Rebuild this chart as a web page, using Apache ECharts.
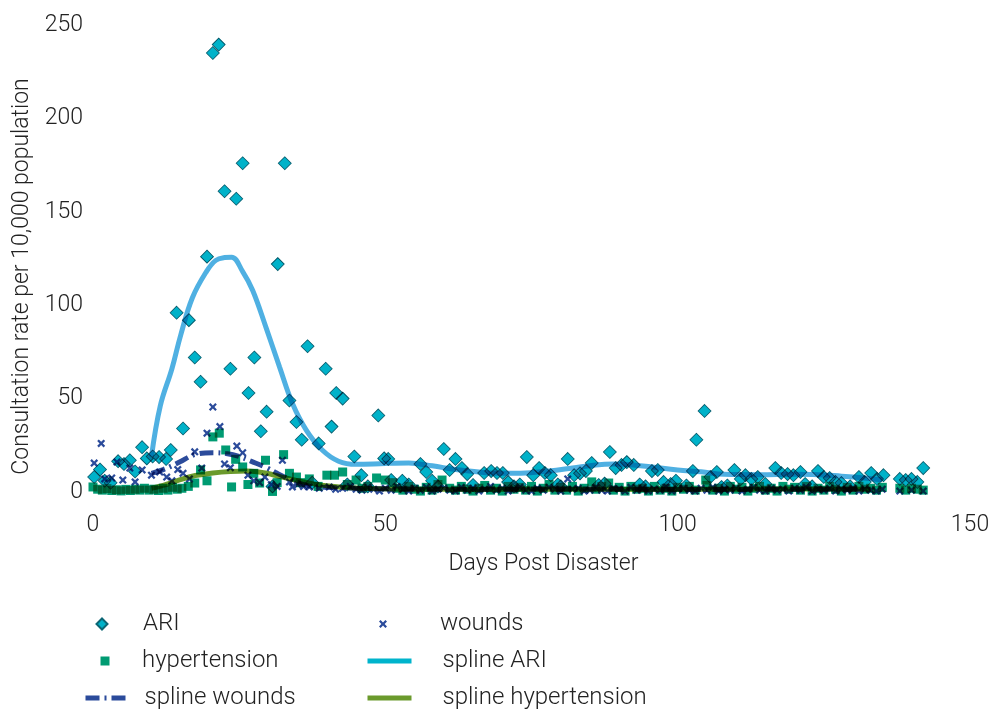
<!DOCTYPE html>
<html><head><meta charset="utf-8">
<script src="https://cdn.jsdelivr.net/npm/echarts@6/dist/echarts.min.js"></script>
<style>html,body{margin:0;padding:0;background:#fff}#c{width:993px;height:709px}</style>
</head><body><div id="c"></div>
<script>
// ---- data: [day, consultations per 10,000] ----
const ariPoints = [
 [0.2,8],[1.2,12],[2,6],[3,5],[4.3,16.5],[5.3,15],[6.3,17],[7.2,11],[8.4,24],[9.2,18],
 [10.2,19],[11.3,18.7],[12.5,17.7],[13.3,22.5],[14.3,96],[15.4,34],[16.4,92],[17.4,72],[18.4,59],[19.5,126],
 [20.5,235],[21.5,239.5],[22.5,161],[23.5,66],[24.5,157],[25.6,176],[26.6,53],[27.6,72],[28.7,32.5],[29.7,43],
 [30.7,3],[31.6,122],[32.8,176],[33.6,49],[34.8,37.5],[35.7,28],[36.7,78],[37.5,5],[38.6,26],[39.8,66],
 [40.8,35],[41.6,53],[42.7,50],[43.5,4],[44.7,19],[45.9,9],[47,3],[48.8,41],[49.8,18],
 [50.5,17.7],[51,6.4],[52.9,6],[54,4],[56,15],[57,10.7],[58,6],[59,3],[60,23],[61,11.8],[62,17.7],
 [63.1,12.8],[64,9.6],[65,3.7],[66.9,10.2],[68.1,11.2],[69.1,10.2],[70.1,10.2],[71,5.3],[72,3],[73,4],
 [74.2,18.7],[75.3,9],[76.3,12.8],[77.3,10.2],[78.3,9],[79.5,4],[80,3],[81.2,17.7],[82.3,9],[83.3,10],
 [84.3,11.2],[85.3,15.5],[86.5,3.7],[87.5,4.5],[88.4,21.4],[89.4,12.8],[90.4,14.5],[91.3,16],[92.5,14.5],[93.5,4],
 [94.5,3],[95.6,11.2],[96.6,11.8],[97.6,5.4],[98.8,4.3],[99.7,6],[101.5,3.5],[102.6,11.2],[103.2,28],[104.6,43.4],
 [105.6,8],[106.7,10.7],[107.5,2.7],[108.5,3.5],[109.7,11.8],[110.8,7],[111.6,9],[112.6,7],[113.7,8],[115,4.3],
 [116.7,12.8],[117.7,10.2],[118.8,9.6],[119.8,9],[121,10.7],[121.8,4.3],[123,3],[124,11.2],[125,8],[126,7.5],
 [127,5.4],[128,4.8],[129.5,3],[131,8],[132,5.4],[133.1,10.2],[134.1,7],[135.2,9],
 [138,7],[139,6.4],[140,7],[141,5.4],[142,12.8]
];
const woundsPoints = [
 [0.2,15.5],[1.4,26],[2,7],[3.2,7.5],[4.1,16],[5.1,6.4],[6.3,12.8],[7.2,5.4],[8.4,11.8],[10,9],
 [11.4,10.7],[12.6,8],[13.5,6],[14.5,12],[15.4,10],[16.5,7],[17.4,21.5],[18.6,12.8],[19.5,31.5],[20.5,45.5],
 [21.7,35],[22.5,15],[23.5,13],[24.6,24.6],[25.6,21],[26.5,9],[27.5,6],[28.5,5],[29.4,8],[30.5,4],
 [31.5,3],[32.4,17],[33.6,5.4],[34.1,2.7],[35,4],[36,3],[37,2.7],[38.7,2],[40.4,2.7],[41.5,1.5],
 [42.7,2],[44,3],[45,1.5],[46,1],[47,2.5],[48,1.5],[49,0.5],[50,2],[51,1],[52,3],
 [53,1.5],[54,0.5],[55,2],[56,1],[57,2.5],[58,0.5],[59,1.5],[60,2],[61,1],[62,0.5],
 [63,2.5],[64,1],[65,2],[66,0.5],[67,1.5],[68,3],[69,1],[70,2],[71,0.5],[72,1.5],
 [73,2.5],[74,1],[75,0.5],[76,2],[77,1],[78,2.5],[79,1.5],[80,0.5],[81.2,7],[82,1.5],
 [83,2],[84,0.5],[85,1],[86,2.5],[87,1],[88,0.5],[89,2],[90,1.5],[91,0.5],[92,2.5],
 [93,1],[94,2],[95,0.5],[96,1.5],[97,1],[98,2.5],[99,0.5],[100,1.5],[101,2],[102,1],
 [103,0.5],[104,2],[105,1],[106,2.5],[107,0.5],[108,1.5],[109,1],[110,2],[111,0.5],[112,1.5],
 [113,2.5],[114,1],[115,0.5],[116,2],[117,1],[118,1.5],[119,0.5],[120,2],[121,1],[122,2.5],
 [123,0.5],[124,1.5],[125,1],[126,2],[127,0.5],[128,1.5],[129,1],[130,2],[131,0.5],[132,1.5],
 [133,1],[134,0.5],[135,1.5],[138,0.5],[140,1],[142,0.5]
];
const hypertensionPoints = [
 [0,2.7],[0.8,1.5],[1.6,1],[2.4,1.8],[3.2,0.8],[4,1.2],[4.8,0.6],[5.6,1.4],[6.4,0.8],[7.2,1.5],
 [8,1],[8.8,2],[9.6,1],[10.4,1.5],[11.2,0.8],[12,2],[12.8,1],[13.6,2.5],[14.4,1.5],[15.2,2],
 [16.3,3],[17.4,4.8],[18.4,11.8],[19.5,6],[20.5,29.5],[21.6,31.5],[22.7,22.5],[23.7,2.7],[24.4,17.5],[25.6,13.4],
 [26.5,4],[27.5,10],[28.5,4.8],[29.5,17],[30.7,0.3],[31.5,5],[32.6,20],[33.6,10],[34.8,8],[35.5,5],
 [37,7],[38.5,3],[40,9],[41.3,9],[42.7,10.7],[43.5,4],[45,6.4],[46,2],[47,3],[48.5,7.5],
 [50,6.4],[51.2,5],[52,2],[53,1],[54,3],[55,1.5],[56,0.5],[57,2.5],[58,1],[59,4],
 [59.7,6.4],[61,2],[62,1],[63,3],[64,1.5],[65,0.5],[66,2],[67,3.5],[68,1],[69,2],
 [70,0.5],[71,3],[72,1.5],[73,2.5],[74,1],[75,3],[76,0.5],[77,2],[78,4],[79,1],
 [80,2.5],[81,1],[82,3],[83,0.5],[84,2],[85.3,5.4],[86,1.5],[87,3],[88.2,4.8],[89,1],
 [90,2.5],[91,0.5],[92,3],[93,1.5],[94,2],[95,0.5],[96,3],[97,1],[98,2],[99,0.5],
 [100,2.5],[101,1.5],[102,3],[103,1],[104.8,6.4],[105,3.5],[106,1],[107,2],[108,0.5],[109,3],
 [110,1.5],[111,2.5],[112,0.5],[113,2],[114,3],[115,1],[116,2],[117,0.5],[118,3],[119,1.5],
 [120,2.5],[121,1],[122,3],[123,0.5],[124,2],[125,1],[126,3],[127,1.5],[128,0.5],[129,2.5],
 [130,1],[131,3],[132,1.5],[133,2],[134,1],[135,2.5],[138,2],[139,1],[140,2],[141,1.5],[142,1]
];
const splineARI = [
 [10,19],[11.5,46],[13.5,66],[15,84],[17,104],[19.4,118],[21,124],[22.5,125.5],[23.7,125.7],[25.6,118],
 [27.3,108],[29.6,88],[31.9,67],[34.1,47.5],[36.5,33],[39.2,22.5],[42,16.5],[45,14.8],[50,15.3],[54,15.5],
 [58,14],[62,12],[66,10.7],[70,10],[74,10.2],[78,11.2],[82,12.8],[86,14.5],[89,15],[92,14.6],
 [96,13.2],[100,11.8],[104,10.8],[108,9.5],[114,9.3],[120,9.5],[124,9.3],[128,8.5],[131,7.8],[135,6.5]
];
const splineWounds = [
 [10,10],[12,12],[14.8,16],[17.4,20],[20.5,21],[23,20.5],[25,19],[27,16.5],[29.7,13],[31.5,10],
 [33.5,7],[35.5,4.5],[37.5,3],[40,2.5],[45,2],[50,1.7],[60,1.5],[70,1.5],[80,1.6],[90,1.6],
 [100,1.4],[110,1.4],[120,1.5],[133,1.5]
];
const splineHypertension = [
 [10,2],[12,3.5],[14.8,6.5],[17.5,8.8],[20.5,10.2],[23.5,11],[26.3,11.2],[29.7,10],[32,8.2],[34.8,6.2],
 [37.5,4.5],[40.4,3.2],[44,2.3],[49,1.7],[55,1.5],[65,1.4],[80,1.5],[95,1.4],[110,1.5],[120,1.6],[133,1.5]
];
const xTicks = [0, 50, 100, 150];
const yTicks = [0, 50, 100, 150, 200, 250];

// ---- chart ----
const FONT = 'Roboto';
const FW = 300;
const FS = 23;
const LFS = 24;
const TXT = '#222';
const xPath = 'path://M2,0 L5,3 L8,0 L10,2 L7,5 L10,8 L8,10 L5,7 L2,10 L0,8 L3,5 L0,2 Z';
const diamondPath = 'path://M5,0 L10,5 L5,10 L0,5 Z';
const squarePath = 'path://M0,0 L10,0 L10,10 L0,10 Z';
const chart = echarts.init(document.getElementById('c'), null, {renderer: 'canvas'});

function legendItem(name, left, rowCenter, itemWidth, itemHeight, gap, item) {
  return {
    left: left, top: rowCenter - 15, orient: 'horizontal',
    itemWidth: itemWidth, itemHeight: itemHeight, selectedMode: false,
    lineStyle: { width: 5 },
    formatter: n => '{s|}{n|' + n + '}',
    textStyle: {
      fontFamily: FONT, fontWeight: FW, fontSize: LFS, color: TXT,
      rich: { s: { width: gap }, n: { fontFamily: FONT, fontWeight: FW, fontSize: LFS, color: TXT, lineHeight: 26 } }
    },
    data: [Object.assign({ name: name }, item || {})]
  };
}

chart.setOption({
  backgroundColor: '#ffffff',
  animation: false,
  textStyle: { fontFamily: FONT },
  grid: { left: 93, right: 23, top: 25, bottom: 217, containLabel: false },
  xAxis: {
    type: 'value', min: xTicks[0], max: xTicks[xTicks.length - 1], interval: xTicks[1] - xTicks[0],
    name: 'Days Post Disaster', nameLocation: 'middle', nameGap: 61,
    nameTextStyle: { fontFamily: FONT, fontWeight: FW, fontSize: FS, color: TXT, padding: [0, 0, 0, 24] },
    axisLine: { show: false }, axisTick: { show: false }, splitLine: { show: false },
    axisLabel: { fontFamily: FONT, fontWeight: FW, fontSize: FS, color: TXT, margin: 22 }
  },
  yAxis: {
    type: 'value', min: yTicks[0], max: yTicks[yTicks.length - 1], interval: yTicks[1] - yTicks[0],
    name: 'Consultation rate per 10,000 population', nameLocation: 'middle', nameGap: 49,
    nameTextStyle: { fontFamily: FONT, fontWeight: FW, fontSize: FS, color: TXT, padding: [0, 36, 0, 0] },
    axisLine: { show: false }, axisTick: { show: false }, splitLine: { show: false },
    axisLabel: { fontFamily: FONT, fontWeight: FW, fontSize: FS, color: TXT, margin: 10 }
  },
  legend: [
    legendItem('ARI', 90.5, 622, 11, 11, 30.5, { icon: diamondPath }),
    legendItem('hypertension', 95.5, 659, 9, 9, 27.5, { icon: squarePath }),
    legendItem('spline wounds', 78, 696, 45, 12, 9, { itemStyle: { opacity: 0 } }),
    legendItem('wounds', 374, 622, 8, 8, 48, { icon: xPath }),
    legendItem('spline ARI', 360, 659, 44, 12, 26, { itemStyle: { opacity: 0 }, lineStyle: { color: '#00b4cc' } }),
    legendItem('spline hypertension', 360, 696, 44, 12, 26, { itemStyle: { opacity: 0 } })
  ],
  series: [
    { name: 'ARI', type: 'scatter', data: ariPoints, symbol: 'diamond', symbolSize: 13,
      blendMode: 'multiply', silent: true,
      itemStyle: { color: '#00b2c9', borderColor: '#0b6674', borderWidth: 0.8, opacity: 1 } },
    { name: 'hypertension', type: 'scatter', data: hypertensionPoints, symbol: 'rect', symbolSize: 9,
      blendMode: 'multiply', silent: true,
      itemStyle: { color: '#009b72', opacity: 1 } },
    { name: 'wounds', type: 'scatter', data: woundsPoints, symbol: xPath, symbolSize: 8, symbolKeepAspect: true,
      blendMode: 'multiply', silent: true,
      itemStyle: { color: '#2b4b9b', opacity: 1 } },
    { name: 'spline ARI', type: 'line', data: splineARI, smooth: 0.4, symbol: 'none', showSymbol: false,
      blendMode: 'multiply', silent: true,
      itemStyle: { color: '#4fb0e2' }, lineStyle: { color: '#4fb0e2', width: 5 } },
    { name: 'spline hypertension', type: 'line', data: splineHypertension, smooth: 0.4, symbol: 'none', showSymbol: false,
      blendMode: 'multiply', silent: true,
      itemStyle: { color: '#6b9a2c' }, lineStyle: { color: '#6b9a2c', width: 5 } },
    { name: 'spline wounds', type: 'line', data: splineWounds, smooth: 0.4, symbol: 'none', showSymbol: false,
      blendMode: 'multiply', silent: true,
      itemStyle: { color: '#2b4b9b' }, lineStyle: { color: '#2b4b9b', width: 5, type: [14, 5, 2, 5] } }
  ]
});
</script></body></html>
